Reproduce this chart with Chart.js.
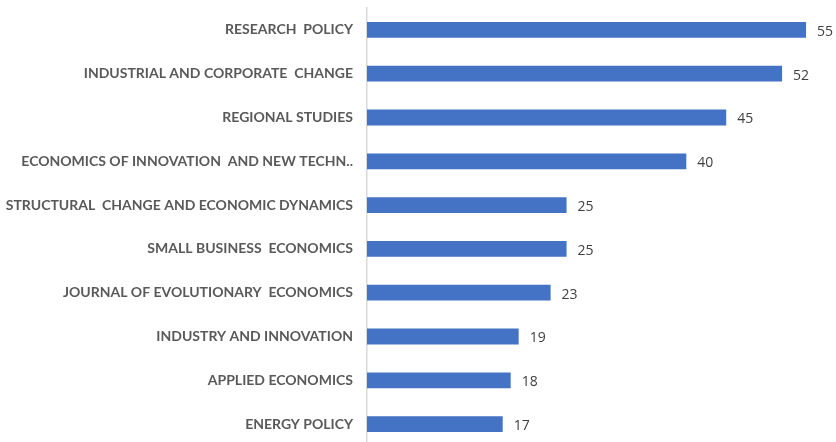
<!DOCTYPE html>
<html>
<head>
<meta charset="utf-8">
<script src="https://cdn.jsdelivr.net/npm/chart.js@4.4.0/dist/chart.umd.min.js"></script>
<style>
  html, body { margin: 0; padding: 0; background: #ffffff; overflow: hidden; }
  #wrap { position: relative; width: 836px; height: 448px; }
</style>
</head>
<body>
<div id="wrap"><canvas id="c"></canvas></div>
<script>
const categories = [
  "RESEARCH  POLICY",
  "INDUSTRIAL AND CORPORATE  CHANGE",
  "REGIONAL STUDIES",
  "ECONOMICS OF INNOVATION  AND NEW TECHN..",
  "STRUCTURAL  CHANGE AND ECONOMIC DYNAMICS",
  "SMALL BUSINESS  ECONOMICS",
  "JOURNAL OF EVOLUTIONARY  ECONOMICS",
  "INDUSTRY AND INNOVATION",
  "APPLIED ECONOMICS",
  "ENERGY POLICY"
];
const counts = [55, 52, 45, 40, 25, 25, 23, 19, 18, 17];

const valueLabels = {
  id: 'valueLabels',
  afterDatasetsDraw(chart) {
    const ctx = chart.ctx;
    const meta = chart.getDatasetMeta(0);
    ctx.save();
    ctx.font = '14px "Open Sans", sans-serif';
    ctx.fillStyle = '#404040';
    ctx.textAlign = 'left';
    ctx.textBaseline = 'middle';
    meta.data.forEach((bar, i) => {
      ctx.fillText(String(counts[i]), bar.x + 11, bar.y + 2);
    });
    ctx.restore();
  }
};

new Chart(document.getElementById('c'), {
  type: 'bar',
  data: {
    labels: categories,
    datasets: [{
      data: counts,
      backgroundColor: '#4472C4',
      borderWidth: 0,
      barPercentage: 0.9,
      categoryPercentage: 0.4
    }]
  },
  options: {
    indexAxis: 'y',
    responsive: true,
    maintainAspectRatio: false,
    animation: false,
    layout: { padding: { top: 8, right: 6, bottom: 2, left: 0 } },
    plugins: { legend: { display: false }, tooltip: { enabled: false } },
    scales: {
      x: {
        display: false,
        min: 0,
        max: 58
      },
      y: {
        afterFit(scale) {
          scale.width = 367;
          scale.paddingTop = 0;
          scale.paddingBottom = 0;
        },
        grid: { display: false, drawTicks: false },
        border: { display: true, color: '#d9d9d9', width: 1.5 },
        ticks: {
          padding: 14,
          color: '#595959',
          font: { family: 'Lato', size: 14, weight: 'bold' }
        }
      }
    }
  },
  plugins: [valueLabels]
});
</script>
</body>
</html>
